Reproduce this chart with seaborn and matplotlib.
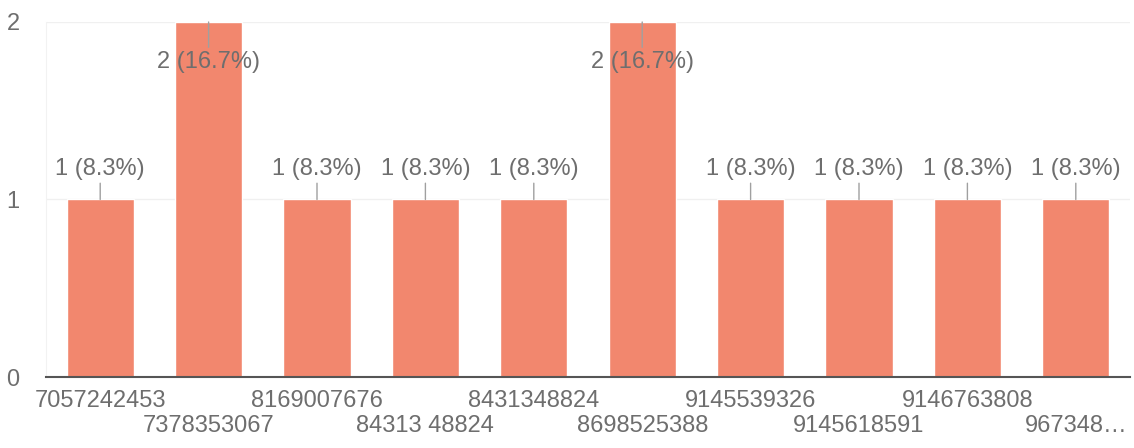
import numpy as np
import pandas as pd
import matplotlib
matplotlib.use("Agg")
import matplotlib.pyplot as plt
import seaborn as sns

# responses per phone number (as shown in the form summary)
numbers = ["7057242453", "7378353067", "8169007676", "84313 48824", "8431348824",
           "8698525388", "9145539326", "9145618591", "9146763808", "967348\u2026"]
counts = [1, 2, 1, 1, 1, 2, 1, 1, 1, 1]

df = pd.DataFrame({"number": numbers, "count": counts})
total = sum(counts)

bar_color = "#f2876e"
text_color = "#6e6e6e"

sns.set_style("white")
plt.rcParams["font.family"] = ["Liberation Sans", "DejaVu Sans"]

fig = plt.figure(figsize=(11.34, 4.48), dpi=100)
ax = fig.add_axes([46 / 1134, 71 / 448, 1084 / 1134, 355 / 448])

sns.barplot(data=df, x="number", y="count", color=bar_color, saturation=1,
            width=0.62, ax=ax)

ax.set_xlim(-0.5, len(numbers) - 0.5)
ax.set_ylim(0, 2)
ax.set_yticks([0, 1, 2])
ax.set_xlabel("")
ax.set_ylabel("")

ax.yaxis.grid(True, color="#f0f0f0", lw=1)
ax.set_axisbelow(True)
for s in ["top", "right"]:
    ax.spines[s].set_visible(False)
ax.spines["left"].set_color("#f2f2f2")
ax.spines["bottom"].set_color("#555555")
ax.spines["bottom"].set_linewidth(1.5)

# staggered category labels in two rows (drawn as text so rows don't collide)
ax.set_xticks(range(len(numbers)))
ax.set_xticklabels([])
ax.tick_params(axis="x", length=0)
ax.tick_params(axis="y", length=0, pad=19, labelsize=17, labelcolor=text_color)
for i, n in enumerate(numbers):
    row_y = -0.068 if i % 2 == 0 else -0.138
    ax.text(i, row_y, n, transform=ax.get_xaxis_transform(), ha="center",
            va="center", fontsize=17, color=text_color, clip_on=False)

top = max(counts)
for i, c in enumerate(counts):
    label = f"{c} ({100 * c / total:.1f}%)"
    off = -28.5 if c == top else 22
    ax.annotate(label, xy=(i, c), xytext=(0, off), textcoords="offset points",
                ha="center", va="center", fontsize=17, color=text_color,
                arrowprops=dict(arrowstyle="-", color="#a0a0a0", lw=1,
                                shrinkA=0, shrinkB=0))

fig.savefig("out.png", dpi=100)
